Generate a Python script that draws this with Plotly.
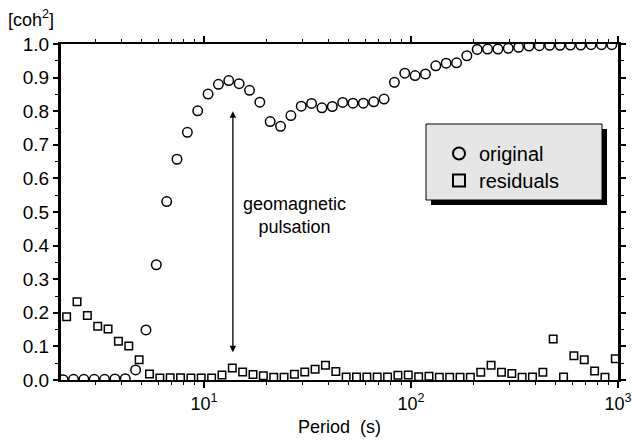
import numpy as np
import plotly.graph_objects as go

# ---- data ----
period_original = [2.089, 2.344, 2.630, 2.951, 3.311, 3.715, 4.169, 4.677, 5.248, 5.888,
                   6.607, 7.413, 8.318, 9.333, 10.47, 11.75, 13.18, 14.79, 16.60, 18.62,
                   20.89, 23.44, 26.30, 29.51, 33.11, 37.15, 41.69, 46.77, 52.48, 58.88,
                   66.07, 74.13, 83.18, 93.33, 104.7, 117.5, 131.8, 147.9, 166.0, 186.2,
                   208.9, 234.4, 263.0, 295.1, 331.1, 371.5, 416.9, 467.7, 524.8, 588.8,
                   660.7, 741.3, 831.8, 933.3]
coh_original = [0.001, 0.002, 0.002, 0.002, 0.002, 0.003, 0.004, 0.030, 0.149, 0.343,
                0.531, 0.657, 0.737, 0.801, 0.851, 0.880, 0.891, 0.882, 0.862, 0.827,
                0.769, 0.755, 0.787, 0.815, 0.823, 0.810, 0.814, 0.826, 0.824, 0.824,
                0.828, 0.836, 0.886, 0.913, 0.906, 0.911, 0.935, 0.943, 0.944, 0.965,
                0.984, 0.985, 0.985, 0.987, 0.990, 0.994, 0.995, 0.996, 0.996, 0.997,
                0.997, 0.998, 0.998, 0.998]

period_residuals = [2.172, 2.438, 2.735, 3.069, 3.443, 3.863, 4.335, 4.864, 5.457, 6.123,
                    6.871, 7.709, 8.650, 9.705, 10.89, 12.22, 13.71, 15.38, 17.26, 19.36,
                    21.73, 24.38, 27.35, 30.69, 34.43, 38.63, 43.35, 48.64, 54.57, 61.23,
                    68.71, 77.09, 86.50, 97.05, 108.9, 122.2, 137.1, 153.8, 172.6, 193.6,
                    217.3, 243.8, 273.5, 306.9, 344.3, 386.3, 433.5, 486.4, 545.7, 612.3,
                    687.1, 770.9, 865.0, 970.5]
coh_residuals = [0.188, 0.233, 0.192, 0.160, 0.152, 0.115, 0.101, 0.060, 0.018, 0.006,
                 0.007, 0.007, 0.006, 0.006, 0.006, 0.015, 0.036, 0.024, 0.016, 0.013,
                 0.008, 0.008, 0.017, 0.024, 0.032, 0.044, 0.025, 0.009, 0.009, 0.009,
                 0.009, 0.009, 0.014, 0.015, 0.010, 0.011, 0.008, 0.008, 0.008, 0.008,
                 0.023, 0.044, 0.023, 0.019, 0.008, 0.009, 0.023, 0.122, 0.009, 0.072,
                 0.060, 0.027, 0.008, 0.063]

x_tick_vals = [10, 100, 1000]
x_tick_text = ["10<sup>1</sup>", "10<sup>2</sup>", "10<sup>3</sup>"]
x_minor_vals = [m * d for d in (1, 10, 100) for m in range(2, 10)]

arrow_period = 13.8
arrow_top = 0.80
arrow_bottom = 0.078

FONT = "Liberation Sans, Arial, sans-serif"

L, R, T, B = 61, 14, 44, 63
W, H = 632, 443
pw, ph = W - L - R, H - T - B


def px(xp):
    return (xp - L) / pw


def py(yp):
    return (H - B - yp) / ph


fig = go.Figure()
fig.add_trace(go.Scatter(
    x=period_original, y=coh_original, mode="markers", name="original", legend="legend",
    marker=dict(symbol="circle-open", size=9.5, color="black", line=dict(width=1.5, color="black")),
))
fig.add_trace(go.Scatter(
    x=period_residuals, y=coh_residuals, mode="markers", name="residuals", legend="legend2",
    marker=dict(symbol="square-open", size=7.5, color="black", line=dict(width=1.5, color="black")),
))

# legend box with shadow
fig.add_shape(type="rect", xref="paper", yref="paper",
              x0=px(431), x1=px(607), y0=py(205), y1=py(129),
              fillcolor="black", line=dict(width=0), layer="above")
fig.add_shape(type="rect", xref="paper", yref="paper",
              x0=px(426), x1=px(602), y0=py(200), y1=py(124),
              fillcolor="#e6e6e6", line=dict(width=1, color="black"), layer="above")

# arrow
fig.add_annotation(x=np.log10(arrow_period), y=arrow_top,
                   ax=np.log10(arrow_period), ay=arrow_bottom,
                   xref="x", yref="y", axref="x", ayref="y",
                   text="", showarrow=True, arrowhead=2, startarrowhead=2,
                   arrowside="end+start", arrowsize=1, arrowwidth=1.3, arrowcolor="black")
fig.add_annotation(x=np.log10(27.4), y=0.49, xref="x", yref="y",
                   text="geomagnetic<br>pulsation", showarrow=False,
                   font=dict(family=FONT, size=18, color="black"), align="center")
fig.add_annotation(x=px(6), y=py(18), xref="paper", yref="paper",
                   xanchor="left", yanchor="middle",
                   text="[coh<sup>2</sup>]", showarrow=False,
                   font=dict(family=FONT, size=18, color="black"))

leg_common = dict(xanchor="left", yanchor="top", bgcolor="rgba(0,0,0,0)", borderwidth=0,
                  font=dict(family=FONT, size=20, color="black"), itemsizing="constant")

fig.update_layout(
    width=W, height=H,
    margin=dict(l=L, r=R, t=T, b=B),
    paper_bgcolor="white", plot_bgcolor="white",
    font=dict(family=FONT, size=18, color="black"),
    showlegend=True,
    legend=dict(x=px(439), y=py(134), **leg_common),
    legend2=dict(x=px(439), y=py(161), **leg_common),
    xaxis=dict(type="log", range=[np.log10(2.04), 3.0], automargin=False,
               tickvals=x_tick_vals, ticktext=x_tick_text,
               ticks="outside", ticklen=6, tickwidth=1.5, tickcolor="black",
               showline=True, linewidth=2, linecolor="black", mirror="ticks",
               showgrid=False, zeroline=False,
               minor=dict(tickvals=x_minor_vals, ticks="outside", ticklen=3,
                          tickwidth=1, tickcolor="black", showgrid=False),
               title=dict(text="Period  (s)", font=dict(family=FONT, size=18), standoff=8),
               tickfont=dict(family=FONT, size=18)),
    yaxis=dict(range=[0, 1.0], dtick=0.1, tickformat=".1f", automargin=False,
               ticks="outside", ticklen=5, tickwidth=1.5, tickcolor="black",
               showline=True, linewidth=3, linecolor="black", mirror="ticks",
               showgrid=False, zeroline=False,
               minor=dict(dtick=0.05, ticks="outside", ticklen=3, tickwidth=1,
                          tickcolor="black", showgrid=False),
               tickfont=dict(family=FONT, size=19)),
)

fig.write_html("out.html")
